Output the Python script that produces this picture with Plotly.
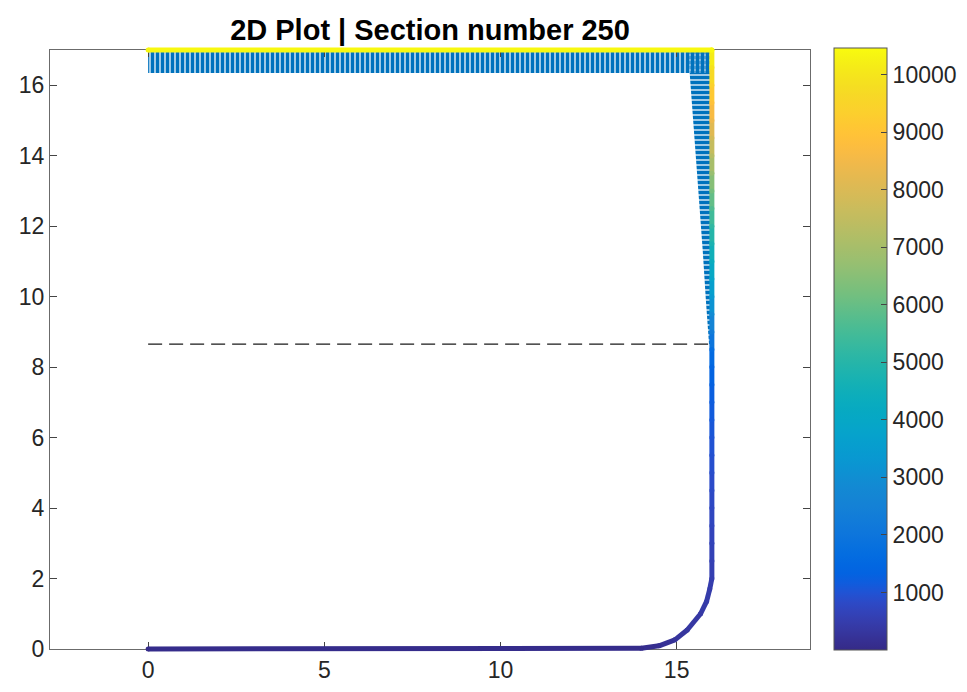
import plotly.graph_objects as go
from plotly.colors import sample_colorscale

# ---------------- data ----------------
title_text = "2D Plot | Section number 250"

# bottom + fillet part of the profile
bottom_x = [0.0, 14.0, 14.5, 14.95, 15.3, 15.68, 15.85, 15.94]
bottom_y = [0.0, 0.02, 0.09, 0.26, 0.54, 1.0, 1.35, 1.7]
bottom_val = [40, 60, 150, 250, 330, 400, 450, 480]

# vertical wall at x = 16
wall_y = [2.0, 2.5, 3.0, 3.5, 4.0, 4.5, 5.0, 5.5, 6.0, 6.5, 7.0, 7.5, 8.0, 8.5,
          9.0, 9.5, 10.0, 10.5, 11.0, 11.5, 12.0, 12.5, 13.0, 13.5, 14.0, 14.5,
          15.0, 15.5, 16.0, 16.5, 17.0]
wall_x = [16.0] * len(wall_y)
wall_val = [520, 580, 640, 700, 760, 820, 880, 950, 1020, 1100, 1180, 1280, 1400, 1700,
            2300, 2900, 3400, 3850, 4300, 4750, 5200, 5700, 6200, 6750, 7300, 7850,
            8400, 8900, 9400, 9900, 10400]

# top edge y = 17
top_x = [16.0, 0.0]
top_y = [17.0, 17.0]
top_val = [10400, 10400]

# hatched load regions
top_hatch_x = [0.0, 16.0, 16.0, 0.0, 0.0]
top_hatch_y = [16.35, 16.35, 17.0, 17.0, 16.35]
right_hatch_x = [16.0, 15.32, 15.37, 15.54, 15.57, 15.74, 15.83, 15.92, 16.0, 16.0]
right_hatch_y = [17.0, 17.0, 16.35, 14.16, 13.6, 11.32, 9.9, 8.65, 8.65, 17.0]

# dashed level line
level_x = [0.0, 16.0]
level_y = [8.65, 8.65]

cbar_ticks = [1000, 2000, 3000, 4000, 5000, 6000, 7000, 8000, 9000, 10000]
x_ticks = [0, 5, 10, 15]
y_ticks = [0, 2, 4, 6, 8, 10, 12, 14, 16]
cmin, cmax = 0, 10460

# ---------------- parula colormap ----------------
parula_rgb = [
    (0.2081, 0.1663, 0.5292), (0.2116, 0.1898, 0.5777), (0.2123, 0.2138, 0.6270),
    (0.2081, 0.2386, 0.6771), (0.1959, 0.2645, 0.7279), (0.1707, 0.2919, 0.7792),
    (0.1253, 0.3242, 0.8303), (0.0591, 0.3598, 0.8683), (0.0117, 0.3875, 0.8820),
    (0.0060, 0.4086, 0.8828), (0.0165, 0.4266, 0.8786), (0.0329, 0.4430, 0.8720),
    (0.0498, 0.4586, 0.8641), (0.0629, 0.4737, 0.8554), (0.0723, 0.4887, 0.8467),
    (0.0779, 0.5040, 0.8384), (0.0793, 0.5200, 0.8312), (0.0749, 0.5375, 0.8263),
    (0.0641, 0.5570, 0.8240), (0.0488, 0.5772, 0.8228), (0.0343, 0.5966, 0.8199),
    (0.0265, 0.6137, 0.8135), (0.0239, 0.6287, 0.8038), (0.0231, 0.6418, 0.7913),
    (0.0228, 0.6535, 0.7768), (0.0267, 0.6642, 0.7607), (0.0384, 0.6743, 0.7436),
    (0.0590, 0.6838, 0.7254), (0.0843, 0.6928, 0.7062), (0.1133, 0.7015, 0.6859),
    (0.1453, 0.7098, 0.6646), (0.1801, 0.7177, 0.6424), (0.2178, 0.7250, 0.6193),
    (0.2586, 0.7317, 0.5954), (0.3022, 0.7376, 0.5712), (0.3482, 0.7424, 0.5473),
    (0.3953, 0.7459, 0.5244), (0.4420, 0.7481, 0.5033), (0.4871, 0.7491, 0.4840),
    (0.5300, 0.7491, 0.4661), (0.5709, 0.7485, 0.4494), (0.6099, 0.7473, 0.4337),
    (0.6473, 0.7456, 0.4188), (0.6834, 0.7435, 0.4044), (0.7184, 0.7411, 0.3905),
    (0.7525, 0.7384, 0.3768), (0.7858, 0.7356, 0.3633), (0.8185, 0.7327, 0.3498),
    (0.8507, 0.7299, 0.3360), (0.8824, 0.7274, 0.3217), (0.9139, 0.7258, 0.3063),
    (0.9450, 0.7261, 0.2886), (0.9739, 0.7314, 0.2666), (0.9938, 0.7455, 0.2403),
    (0.9990, 0.7653, 0.2164), (0.9955, 0.7861, 0.1967), (0.9880, 0.8066, 0.1794),
    (0.9789, 0.8271, 0.1633), (0.9697, 0.8481, 0.1475), (0.9626, 0.8705, 0.1309),
    (0.9589, 0.8949, 0.1132), (0.9598, 0.9218, 0.0948), (0.9661, 0.9514, 0.0755),
    (0.9763, 0.9831, 0.0538)]
n = len(parula_rgb)
parula = [[i / (n - 1), "rgb(%d,%d,%d)" % (round(r * 255), round(g * 255), round(b * 255))]
          for i, (r, g, b) in enumerate(parula_rgb)]

# ---------------- geometry ----------------
W, H = 967, 692
L, R, T, B = 44, 151, 44, 37
PAD = 6
pw, ph = W - L - R, H - T - B
xr = [-2.785, 18.785]
yr = [0.0, 17.0]
sx = (pw - 2 * PAD) / (xr[1] - xr[0])
sy = (ph - 2 * PAD) / (yr[1] - yr[0])
xr2 = [xr[0] - PAD / sx, xr[1] + PAD / sx]
yr2 = [yr[0] - PAD / sy, yr[1] + PAD / sy]

FONT = "Arial, Liberation Sans, Helvetica, sans-serif"
AXC = "#6b6b6b"
TXT = "#262626"
TICKSIZE = 23
BLUE = "#0072BD"

fig = go.Figure()

# hatched regions (on the framed axes)
fig.add_trace(go.Scatter(
    x=right_hatch_x, y=right_hatch_y, mode="lines", fill="toself",
    line=dict(width=0, color=BLUE), fillcolor=BLUE,
    fillpattern=dict(shape="-", fgcolor=BLUE, fgopacity=1, fillmode="replace",
                     bgcolor="rgba(200,222,240,0.5)", size=5, solidity=0.72),
    hoverinfo="skip", xaxis="x", yaxis="y"))
fig.add_trace(go.Scatter(
    x=top_hatch_x, y=top_hatch_y, mode="lines", fill="toself",
    line=dict(width=0, color=BLUE), fillcolor=BLUE,
    fillpattern=dict(shape="|", fgcolor=BLUE, fgopacity=1, fillmode="replace",
                     bgcolor="rgba(200,222,240,0.5)", size=5, solidity=0.72),
    hoverinfo="skip", xaxis="x", yaxis="y"))

# dashed level line
fig.add_trace(go.Scatter(
    x=level_x, y=level_y, mode="lines",
    line=dict(color="#1a1a1a", width=1.2, dash="14px,7px"),
    hoverinfo="skip", xaxis="x", yaxis="y"))

# colored profile: segments coloured from the parula scale
px_all = bottom_x + wall_x + top_x
py_all = bottom_y + wall_y + top_y
pv_all = bottom_val + wall_val + top_val
for i in range(len(px_all) - 1):
    v = 0.5 * (pv_all[i] + pv_all[i + 1])
    c = sample_colorscale(parula, [(v - cmin) / (cmax - cmin)])[0]
    fig.add_trace(go.Scatter(
        x=[px_all[i], px_all[i + 1]], y=[py_all[i], py_all[i + 1]], mode="lines",
        line=dict(color=c, width=5), hoverinfo="skip", xaxis="x2", yaxis="y2"))

fig.add_trace(go.Scatter(
    x=px_all, y=py_all, mode="markers", cliponaxis=False,
    marker=dict(color=pv_all, colorscale=parula, cmin=cmin, cmax=cmax, size=5,
                line=dict(width=0), showscale=True,
                colorbar=dict(
                    x=(834 - L) / pw, xanchor="left",
                    y=(H - B - 349) / ph, yanchor="middle",
                    len=602, lenmode="pixels", thickness=53, thicknessmode="pixels",
                    xpad=0, ypad=0, outlinewidth=1, outlinecolor="#555555",
                    ticks="inside", ticklen=6, tickcolor="#444444", tickwidth=1,
                    tickvals=cbar_ticks, ticktext=[str(t) for t in cbar_ticks],
                    tickfont=dict(family=FONT, size=TICKSIZE, color=TXT))),
    hoverinfo="skip", xaxis="x2", yaxis="y2"))

axis_common = dict(showgrid=False, zeroline=False, showline=True, linecolor=AXC,
                   linewidth=1, mirror="allticks", ticks="inside", ticklen=7,
                   tickcolor="#444444", tickwidth=1,
                   tickfont=dict(family=FONT, size=TICKSIZE, color=TXT))

fig.update_layout(
    width=W, height=H,
    margin=dict(l=L, r=R, t=T, b=B, pad=0, autoexpand=False),
    paper_bgcolor="white", plot_bgcolor="rgba(0,0,0,0)",
    showlegend=False,
    title=dict(text="<b>" + title_text + "</b>", x=0.5, xref="paper", xanchor="center",
               y=1 - 30 / H, yref="container", yanchor="middle",
               font=dict(family=FONT, size=29, color="black")),
    xaxis=dict(domain=[PAD / pw, 1 - PAD / pw], range=xr, tickvals=x_ticks,
               anchor="y", **axis_common),
    yaxis=dict(domain=[PAD / ph, 1 - PAD / ph], range=yr, tickvals=y_ticks,
               anchor="x", **axis_common),
    xaxis2=dict(domain=[0, 1], range=xr2, visible=False, anchor="y2"),
    yaxis2=dict(domain=[0, 1], range=yr2, visible=False, anchor="x2"),
)

fig.write_html("out.html")
